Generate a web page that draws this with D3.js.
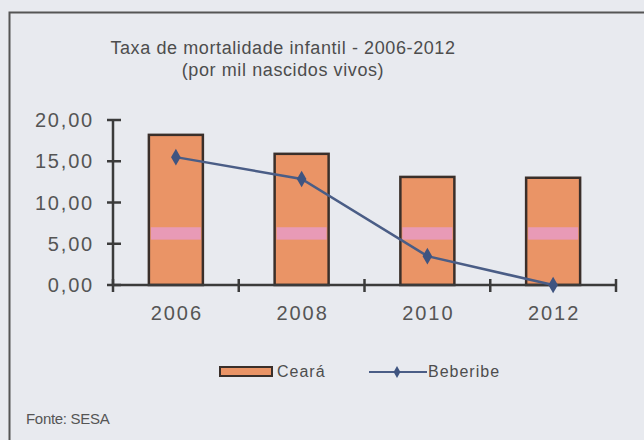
<html>
  <head>
    <script src="https://cdnjs.cloudflare.com/ajax/libs/d3/7.8.5/d3.min.js"></script>
  </head>
  <body style="margin:0;background:#e8eaef;">
    <div id="chart"></div>
    <script>

// D A T A

      let years = ['2006', '2008', '2010', '2012']
      let ceara = [18.2, 15.9, 13.1, 13.0]
      let beberibe = [15.5, 12.85, 3.5, 0.0]
      let yTicks = [0, 5, 10, 15, 20]
      let titleLines = ['Taxa de mortalidade infantil - 2006-2012', '(por mil nascidos vivos)']
      let band = [5.5, 7.0]   // the pale pink stripe across each bar

// S C E N E

      let W = 644, H = 440
      let font = '"Liberation Sans", Arial, sans-serif'
      let ink = '#4d4d4d'

      let svg = d3.select('#chart').append('svg')
        .attr('width', W).attr('height', H)
        .style('font-family', font)

      svg.append('rect').attr('width', W).attr('height', H).attr('fill', '#e8eaef')

      // frame: only top and left edges show
      svg.append('path')
        .attr('d', `M9.5,${H}V12.5H${W}`)
        .attr('fill', 'none').attr('stroke', '#555').attr('stroke-width', 2)

      svg.append('g').selectAll('text')
        .data(titleLines).enter()
        .append('text')
          .attr('x', 283).attr('y', (d, i) => 54 + i * 22)
          .attr('text-anchor', 'middle')
          .attr('font-size', 18).attr('letter-spacing', 0.6).attr('fill', ink)
          .text(d => d)

// A X E S

      let x = d3.scaleBand().domain(years).range([113, 616])
      let y = d3.scaleLinear().domain([0, 20]).range([285, 120])
      let axisInk = '#3b3b3b'

      let yAxis = svg.append('g')
      yAxis.append('line')
        .attr('x1', 113).attr('x2', 113).attr('y1', y(20)).attr('y2', y(0))
        .attr('stroke', axisInk).attr('stroke-width', 2.5)
      yAxis.selectAll('.tick').data(yTicks).enter()
        .append('line')
          .attr('x1', 107).attr('x2', 121).attr('y1', d => y(d)).attr('y2', d => y(d))
          .attr('stroke', axisInk).attr('stroke-width', 2.5)
      yAxis.selectAll('text').data(yTicks).enter()
        .append('text')
          .attr('x', 94).attr('y', d => y(d) + 7)
          .attr('text-anchor', 'end')
          .attr('font-size', 20).attr('letter-spacing', 1.8).attr('fill', '#555')
          .text(d => d3.format('.2f')(d).replace('.', ','))

// B A R S

      let bw = 54
      let bars = svg.append('g').selectAll('g')
        .data(years).enter()
        .append('g')

      bars.append('rect')
        .attr('x', d => x(d) + x.bandwidth() / 2 - bw / 2)
        .attr('y', (d, i) => y(ceara[i]))
        .attr('width', bw)
        .attr('height', (d, i) => y(0) - y(ceara[i]))
        .attr('fill', '#ea9466')
        .attr('stroke', '#3a2f2a').attr('stroke-width', 2.5)

      bars.append('rect')
        .attr('x', d => x(d) + x.bandwidth() / 2 - bw / 2 + 2)
        .attr('y', y(band[1]))
        .attr('width', bw - 4)
        .attr('height', y(band[0]) - y(band[1]))
        .attr('fill', '#e89ab6')

      // x axis drawn over the bar bottoms
      let xAxis = svg.append('g')
      xAxis.append('line')
        .attr('x1', 113).attr('x2', 616).attr('y1', y(0)).attr('y2', y(0))
        .attr('stroke', axisInk).attr('stroke-width', 2.5)
      let edges = years.map(d => x(d)).concat([x.range()[1]])
      xAxis.selectAll('.tick').data(edges).enter()
        .append('line')
          .attr('x1', d => d).attr('x2', d => d).attr('y1', y(0) - 6).attr('y2', y(0) + 7)
          .attr('stroke', axisInk).attr('stroke-width', 2.5)
      xAxis.selectAll('text').data(years).enter()
        .append('text')
          .attr('x', d => x(d) + x.bandwidth() / 2 + 1).attr('y', 320)
          .attr('text-anchor', 'middle')
          .attr('font-size', 20).attr('letter-spacing', 2).attr('fill', '#555')
          .text(d => d)

// L I N E

      let lineInk = '#4a5d86'
      let pts = years.map((d, i) => [x(d) + x.bandwidth() / 2, y(beberibe[i])])
      svg.append('path')
        .attr('d', d3.line()(pts))
        .attr('fill', 'none').attr('stroke', lineInk).attr('stroke-width', 2.5)

      let diamond = d3.symbol().type(d3.symbolDiamond).size(80)
      svg.append('g').selectAll('path')
        .data(pts).enter()
        .append('path')
          .attr('d', diamond)
          .attr('transform', d => `translate(${d[0]},${d[1]})`)
          .attr('fill', '#3f5480')

// L E G E N D

      let legend = svg.append('g').attr('font-size', 16).attr('letter-spacing', 1).attr('fill', ink)
      legend.append('rect')
        .attr('x', 220).attr('y', 367).attr('width', 52).attr('height', 9)
        .attr('fill', '#ea9466').attr('stroke', '#3a2f2a').attr('stroke-width', 2)
      legend.append('text').attr('x', 277).attr('y', 377).text('Ceará')
      legend.append('line')
        .attr('x1', 369).attr('x2', 427).attr('y1', 372).attr('y2', 372)
        .attr('stroke', lineInk).attr('stroke-width', 2)
      legend.append('path')
        .attr('d', d3.symbol().type(d3.symbolDiamond).size(40))
        .attr('transform', 'translate(397,372)')
        .attr('fill', '#3f5480')
      legend.append('text').attr('x', 428).attr('y', 377).text('Beberibe')

      svg.append('text')
        .attr('x', 26).attr('y', 424)
        .attr('font-size', 15).attr('fill', '#555')
        .attr('letter-spacing', -0.3)
        .text('Fonte: SESA')

    </script>
  </body>
</html>
